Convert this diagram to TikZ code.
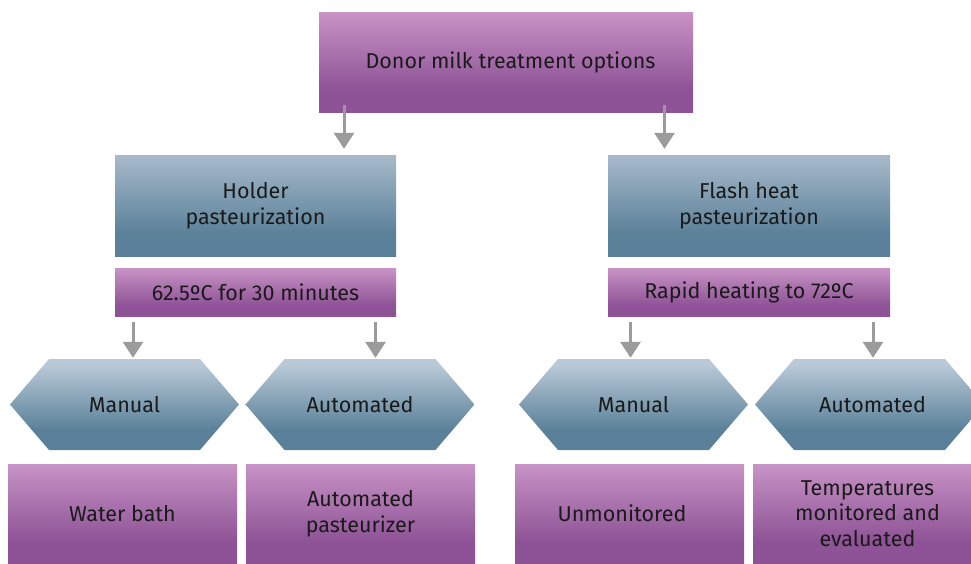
\documentclass[tikz,border=0pt]{standalone}
\usepackage{fontspec}
\setmainfont{Fira Sans}
\usetikzlibrary{arrows.meta}

\definecolor{ptop}{HTML}{C893C6}
\definecolor{pbot}{HTML}{8E5396}
\definecolor{btop}{HTML}{A8BACA}
\definecolor{bbot}{HTML}{5A8199}
\definecolor{htop}{HTML}{B9C9D7}
\definecolor{arrowgrey}{HTML}{9B9B9B}
\definecolor{ink}{HTML}{1A1A1A}

% vertical fades: the dark colour holds over the lower part of each shape
\pgfdeclareverticalshading{purpleshade}{100bp}{color(0bp)=(pbot); color(36bp)=(pbot); color(75bp)=(ptop); color(100bp)=(ptop)}
\pgfdeclareverticalshading{blueshade}{100bp}{color(0bp)=(bbot); color(36bp)=(bbot); color(75bp)=(btop); color(100bp)=(btop)}
\pgfdeclareverticalshading{hexshade}{100bp}{color(0bp)=(bbot); color(36bp)=(bbot); color(72bp)=(htop); color(100bp)=(htop)}

\tikzset{
  label text/.style={text=ink, font=\fontsize{21.5}{25.5}\selectfont, align=center, inner sep=0pt},
  pbox/.style={label text, shade, shading=purpleshade},
  bbox/.style={label text, shade, shading=blueshade},
  hexbox/.style={label text, minimum width=229pt, minimum height=91pt,
    path picture={
      \shade[shading=hexshade]
        (path picture bounding box.west)
        -- ([xshift=39pt]path picture bounding box.north west)
        -- ([xshift=-39pt]path picture bounding box.north east)
        -- (path picture bounding box.east)
        -- ([xshift=-39pt]path picture bounding box.south east)
        -- ([xshift=39pt]path picture bounding box.south west)
        -- cycle;}},
  arr/.style={draw=arrowgrey, line width=3pt, -{Triangle[width=20pt,length=16pt]}}
}

\begin{document}
\begin{tikzpicture}[x=1pt,y=-1pt]
  \clip (0,0) rectangle (971,563);

  % root
  \node[pbox, minimum width=374pt, minimum height=100pt] (root) at (506,62) {\hspace*{9pt}Donor milk treatment options};

  % the two methods
  \node[bbox, minimum width=281pt, minimum height=101pt] (holder) at (255.5,205.5) {Holder\\pasteurization};
  \node[bbox, minimum width=282pt, minimum height=101pt] (flash) at (749,205.5) {Flash heat\\pasteurization};

  % their conditions
  \node[pbox, minimum width=281pt, minimum height=48pt] (holdtemp) at (255.5,292) {62.5ºC for 30 minutes};
  \node[pbox, minimum width=282pt, minimum height=48pt] (flashtemp) at (749,292) {Rapid heating to 72ºC};

  % manual / automated variants
  \node[hexbox] (hmanual) at (124.5,404.5) {Manual};
  \node[hexbox] (hauto) at (360,404.5) {Automated};
  \node[hexbox] (fmanual) at (633.5,404.5) {Manual};
  \node[hexbox] (fauto) at (869.5,404.5) {\hspace*{6pt}Automated};

  % outcomes
  \node[pbox, minimum width=229pt, minimum height=99pt] (waterbath) at (122.5,513.5) {Water bath};
  \node[pbox, minimum width=229pt, minimum height=99pt] (pasteurizer) at (360.5,513.5) {Automated\\pasteurizer};
  \node[pbox, minimum width=229pt, minimum height=99pt] (unmonitored) at (629.5,513.5) {Unmonitored\hspace*{15pt}};
  \node[pbox, minimum width=229pt, minimum height=99pt] (monitored) at (867.5,513.5) {Temperatures\\monitored and\\evaluated};

  % arrow columns
  \coordinate (xa) at (344,0);
  \coordinate (xb) at (664.5,0);
  \coordinate (xc) at (133,0);
  \coordinate (xd) at (375.5,0);
  \coordinate (xe) at (630.5,0);
  \coordinate (xf) at (873,0);

  \draw[arr, shorten <=-7pt, shorten >=6pt] (root.south -| xa) -- (holder.north -| xa);
  \draw[arr, shorten <=-7pt, shorten >=6pt] (root.south -| xb) -- (flash.north -| xb);
  \draw[arr, shorten <=6pt, shorten >=1pt] (holdtemp.south -| xc) -- (hmanual.north -| xc);
  \draw[arr, shorten <=6pt, shorten >=1pt] (holdtemp.south -| xd) -- (hauto.north -| xd);
  \draw[arr, shorten <=6pt, shorten >=1pt] (flashtemp.south -| xe) -- (fmanual.north -| xe);
  \draw[arr, shorten <=6pt, shorten >=1pt] (flashtemp.south -| xf) -- (fauto.north -| xf);
\end{tikzpicture}
\end{document}
